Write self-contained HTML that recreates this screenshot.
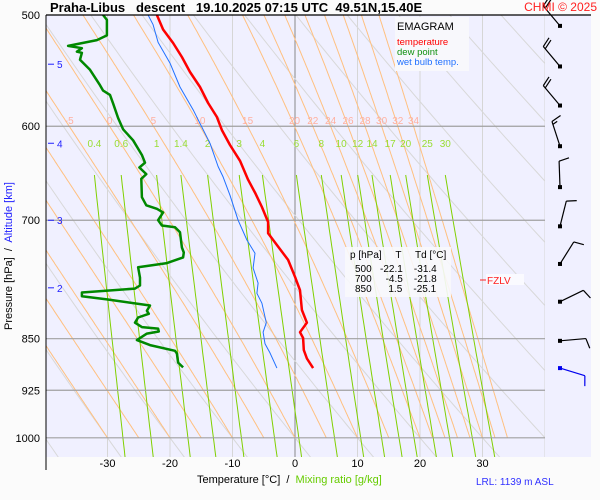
<!DOCTYPE html>
<html><head><meta charset="utf-8"><style>
body{margin:0;background:#fbfbfb;}
svg{display:block;font-family:"Liberation Sans",Arial,sans-serif;}
</style></head><body>
<svg id="chart" width="600" height="500" viewBox="0 0 600 500" xmlns="http://www.w3.org/2000/svg">
<defs><clipPath id="pc"><rect x="46" y="15" width="499" height="442"/></clipPath></defs>
<rect x="0" y="0" width="600" height="500" fill="#fbfbfb"/>
<rect x="46" y="15" width="545" height="442" fill="#f0f0ff"/>
<g id="grid" clip-path="url(#pc)"></g>
<g id="lbls"></g>
<g id="series" clip-path="url(#pc)"></g>
<g id="axes"></g>
<g id="winds"></g>
<text x="50" y="12" font-size="13" font-weight="bold" fill="#000" xml:space="preserve">Praha-Libus   descent   19.10.2025 07:15 UTC  49.51N,15.40E</text>
<text x="597" y="11" font-size="12" fill="#ff2020" text-anchor="end">CHMI © 2025</text>
<line x1="46" y1="15" x2="591" y2="15" stroke="#000" stroke-width="1.2"/>
<g>
<rect x="395" y="17" width="74" height="54" fill="#f8f8fc"/>
<text x="397" y="30" font-size="11" fill="#000">EMAGRAM</text>
<text x="397" y="45" font-size="9.5" fill="#ff0000">temperature</text>
<text x="397" y="55" font-size="9.5" fill="#109010">dew point</text>
<text x="397" y="65" font-size="9.5" fill="#2070ff">wet bulb temp.</text>
</g>
<g font-size="10" fill="#000">
<rect x="345" y="247" width="106" height="50" fill="#f8f8fc" opacity="0.9"/>
<text x="350" y="258" xml:space="preserve">p [hPa]     T     Td [°C]</text>
<text x="355" y="272" xml:space="preserve">500   -22.1    -31.4</text>
<text x="355" y="282" xml:space="preserve">700     -4.5    -21.8</text>
<text x="355" y="292" xml:space="preserve">850      1.5    -25.1</text>
</g>
<g>
<rect x="486" y="274" width="38" height="11" fill="#fafaff"/>
<line x1="480" y1="280" x2="486" y2="280" stroke="#ff2020"/>
<text x="487" y="284" font-size="10" fill="#ff2020">FZLV</text>
</g>
<text x="197" y="483" font-size="11" fill="#000" xml:space="preserve">Temperature [°C]  /  <tspan fill="#66cc00">Mixing ratio [g/kg]</tspan></text>
<text x="476" y="485" font-size="10" fill="#3030ff">LRL: 1139 m ASL</text>
<text transform="translate(12,330) rotate(-90)" font-size="11" fill="#000" xml:space="preserve">Pressure [hPa]  /  <tspan fill="#2020ff">Altitude [km]</tspan></text>
<script>
// ---- data ----
const tempP=[500,512,523.5,535.6,549,562.6,577.6,591,603.8,618.8,635,655,669,685,702,715,729,747,768,785,811,828,841,849,866,878,892];
const tempT=[-22.1,-21.1,-19.5,-18.1,-16.8,-15.2,-13.9,-12.5,-11.7,-10.4,-8.8,-7.5,-6.4,-5.3,-4.3,-4.3,-2.9,-1.1,0.0,0.8,1.1,1.9,0.8,1.3,1.4,1.9,2.9];
const dewP=[500,504,517,521,526,528,531,532,538,547,561,566,570,578,592,603,614,629,637,642,649,654,674,683,687,691,700,706,708,714,732,738,744,751,756,769,779,783,788,793,797,805,812,816,821,828,834,836,840,843,852,859,867,871,884,891];
const dewT=[-30.7,-30.1,-30.1,-31.7,-36.3,-34.1,-34.9,-34.1,-34.4,-32.8,-31.2,-30.7,-29.6,-29.1,-28.3,-27.5,-25.9,-24.5,-24.0,-24.9,-23.8,-24.6,-24.5,-23.8,-22.1,-21.1,-21.9,-21.3,-19.2,-18.4,-18.1,-17.8,-17.9,-20.5,-25.1,-24.8,-24.8,-25.6,-34.1,-34.1,-30.1,-23.2,-23.7,-23.4,-25.1,-25.6,-24.5,-21.9,-21.8,-23.7,-25.3,-23.2,-19.2,-18.9,-18.7,-17.9];
const wetP=[500,508,523,541,562.6,584,601,617,641,652,672,700,723,739,757,776,789,802,828,841,857,870,892];
const wetT=[-23.5,-22.7,-21.9,-20.0,-18.4,-16.3,-14.9,-13.6,-12.3,-11.5,-10.4,-9.1,-7.7,-6.4,-6.7,-5.9,-6.1,-5.3,-4.6,-5.1,-4.8,-4.0,-2.9];
const pressTicks=[500,600,700,850,925,1000];
const tempTicks=[-30,-20,-10,0,10,20,30];
const altKm=[5,4,3,2];
const altP=[542,617,700,782];
const thetaW=[-30,-25,-20,-15,-10,-5,0,5,10,15,20,22,24,26,28,30,32,34];
const thetaWLabels=[-5,0,5,10,15,20,22,24,26,28,30,32,34];
const dryTheta=[-60,-50,-40,-30,-20,-10,0,10,20,30,40,50,60,70,80,90,100,110,120];
const mixRatios=[0.4,0.6,1,1.4,2,3,4,6,8,10,12,14,17,20,25,30];
const windP=[509,544,580,620,663,707,752,800,853,892];
const windDir=[320,320,320,342,358,14,32,64,85,107];
const windSpd=[20,20,20,15,10,10,10,10,10,10];

// ---- scales ----
const X=t=>295+6.25*t;
const Y=p=>15+610*Math.log(p/500);
const NS="http://www.w3.org/2000/svg";
function mk(tag,parent,attrs){const e=document.createElementNS(NS,tag);for(const k in attrs)e.setAttribute(k,attrs[k]);parent.appendChild(e);return e;}
const grid=document.getElementById('grid'),lbls=document.getElementById('lbls'),series=document.getElementById('series'),axes=document.getElementById('axes'),winds=document.getElementById('winds');
function es(tc){return 6.112*Math.exp(17.67*tc/(tc+243.5));}

// isotherms
for(let t=-40;t<=40;t+=10){const l=mk('line',grid,{x1:X(t),y1:15,x2:X(t),y2:457,stroke:t===0?'#888':'#d6d6d6','stroke-width':1});

}
mk('line',grid,{x1:545,y1:15,x2:545,y2:457,stroke:'#d6d6d6'});
// dry adiabats
dryTheta.forEach(th=>{let pts=[];for(let p=450;p<=1050;p+=10){const t=(th+273.15)*Math.pow(p/1000,0.2857)-273.15;pts.push(X(t).toFixed(1)+','+Y(p).toFixed(1));}
const l=mk('polyline',grid,{points:pts.join(' '),fill:'none',stroke:'#d8d8d8','stroke-width':1});

});
// pseudoadiabats
const moistAt600={};
thetaW.forEach(tw=>{let T=tw+273.15,p=1000,pts=[X(tw).toFixed(1)+','+Y(1000).toFixed(1)];
while(p>480){const rs=0.622*es(T-273.15)/(p-es(T-273.15));const d=(287*T+2.5e6*rs)/(p*(1005+2.5e6*2.5e6*rs*0.622/(287*T*T)));const dp=-2;T+=d*dp;p+=dp;
if(Math.abs(p-600)<1)moistAt600[tw]=T-273.15;pts.push(X(T-273.15).toFixed(1)+','+Y(p).toFixed(1));}
const l=mk('polyline',grid,{points:pts.join(' '),fill:'none',stroke:'#ffc080','stroke-width':1});

});
// mixing ratio lines
mixRatios.forEach(w=>{let pts=[];for(let p=650;p<=1040;p+=10){const e=w/1000*p/(0.622+w/1000);const a=Math.log(e/6.112);const td=243.5*a/(17.67-a);pts.push(X(td).toFixed(1)+','+Y(p).toFixed(1));}
const l=mk('polyline',grid,{points:pts.join(' '),fill:'none',stroke:'#80d000','stroke-width':1});


const e=w/1000*650/(0.622+w/1000);const a=Math.log(e/6.112);const td=243.5*a/(17.67-a);
const tx=mk('text',lbls,{x:X(td).toFixed(1),y:147,'font-size':10,fill:'#99dd33','text-anchor':'middle'});tx.textContent=w;

});
// isobars
pressTicks.slice(1).forEach(p=>{const l=mk('line',grid,{x1:46,y1:Y(p),x2:545,y2:Y(p),stroke:'#a0a0a0','stroke-width':1.2});

});
// theta-w labels
thetaWLabels.forEach(tw=>{const t=moistAt600[tw];const tx=mk('text',lbls,{x:X(t).toFixed(1),y:124,'font-size':10,fill:'#ffb0a0','text-anchor':'middle'});tx.textContent=tw;

});

// series
function line(P,T,color,w,name){const pts=P.map((p,i)=>X(T[i]).toFixed(1)+','+Y(p).toFixed(1)).join(' ');
const l=mk('polyline',series,{points:pts,fill:'none',stroke:color,'stroke-width':w,'stroke-linejoin':'round'});

}
line(wetP,wetT,'#2070ff',1,'wet-bulb-line');
line(dewP,dewT,'#008800',2.5,'dew-point-line');
line(tempP,tempT,'#ff0000',2.5,'temperature-line');

// axes
const ax=mk('line',axes,{x1:46,y1:15,x2:46,y2:470,stroke:'#000','stroke-width':1});


pressTicks.forEach(p=>{const t=mk('text',axes,{x:40,y:Y(p)+4,'font-size':11,fill:'#000','text-anchor':'end'});t.textContent=p;

});
tempTicks.forEach(v=>{const t=mk('text',axes,{x:X(v),y:467,'font-size':11,fill:'#000','text-anchor':'middle'});t.textContent=v;

});
altKm.forEach((k,i)=>{const y=Y(altP[i]);mk('line',axes,{x1:48,y1:y,x2:54,y2:y,stroke:'#2020ff','stroke-width':1});
const t=mk('text',axes,{x:57,y:y+4,'font-size':10,fill:'#2020ff'});t.textContent=k;

});

// wind barbs
windP.forEach((p,i)=>{const x0=560,y0=Y(p);const th=windDir[i]*Math.PI/180;const ux=Math.sin(th),uy=-Math.cos(th);
const col=i===windP.length-1?'#0000ee':'#000';const L=26;const ex=x0+ux*L,ey=y0+uy*L;
const g=mk('g',winds,{stroke:col,'stroke-width':1.2,fill:'none'});


mk('line',g,{x1:x0,y1:y0,x2:ex,y2:ey});
mk('rect',g,{x:x0-2,y:y0-2,width:4,height:4,fill:col,stroke:'none'});
let s=windSpd[i],k=0;const px=-uy,py=ux;
while(s>=10){const bx=ex-ux*3*k,by=ey-uy*3*k;mk('line',g,{x1:bx,y1:by,x2:bx+px*10+ux*3,y2:by+py*10+uy*3});s-=10;k++;}
if(s>=5){const bx=ex-ux*3*k,by=ey-uy*3*k;mk('line',g,{x1:bx,y1:by,x2:bx+px*5+ux*1.5,y2:by+py*5+uy*1.5});}
});
</script>
</svg>
</body></html>
